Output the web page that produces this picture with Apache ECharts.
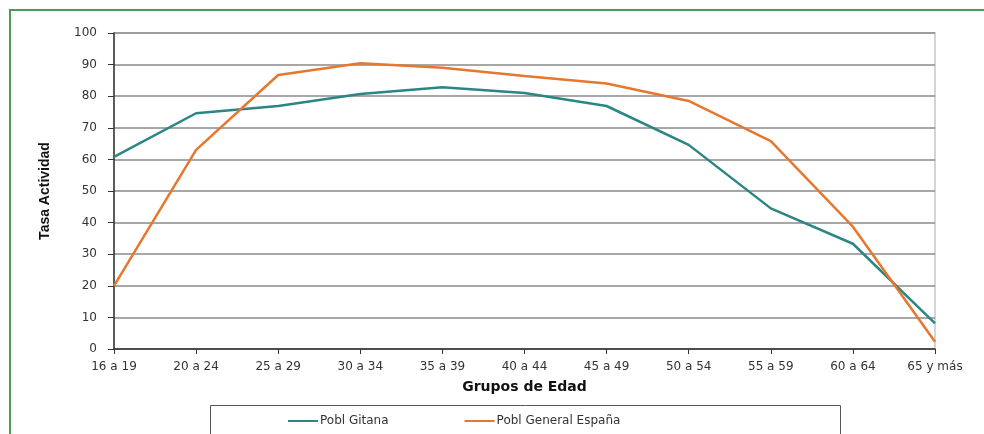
<!DOCTYPE html>
<html><head><meta charset="utf-8">
<script src="https://cdn.jsdelivr.net/npm/echarts@6/dist/echarts.min.js"></script>
<style>html,body{margin:0;padding:0;background:#fff}#c{width:984px;height:434px}</style>
</head><body><div id="c"></div>
<script>
const categories = ['16 a 19','20 a 24','25 a 29','30 a 34','35 a 39','40 a 44','45 a 49','50 a 54','55 a 59','60 a 64','65 y más'];
const gitana = [60.8, 74.6, 76.9, 80.7, 82.8, 81.0, 76.9, 64.6, 44.5, 33.3, 8.1];
const espana = [20.0, 63.0, 86.7, 90.4, 89.0, 86.4, 84.0, 78.5, 65.8, 38.7, 2.3];
const seriesNames = ['Pobl Gitana', 'Pobl General España'];
const yTicks = {min: 0, max: 100, interval: 10};

const font = '"DejaVu Sans", Arial, sans-serif';
const narrow = '"Liberation Sans Narrow", "Liberation Sans", Arial, sans-serif';
const chart = echarts.init(document.getElementById('c'), null, {renderer: 'canvas'});
chart.setOption({
  animation: false,
  backgroundColor: '#fff',
  graphic: [
    {type: 'line', shape: {x1: 10, y1: 9, x2: 10, y2: 434}, style: {stroke: '#4f9a57', lineWidth: 2}, z: 0},
    {type: 'line', shape: {x1: 10, y1: 10, x2: 984, y2: 10}, style: {stroke: '#4f9a57', lineWidth: 2}, z: 0},
    {type: 'rect', shape: {x: 210.5, y: 405.5, width: 630, height: 40}, style: {fill: '#fff', stroke: '#555', lineWidth: 1}, z: 0}
  ],
  grid: {left: 114, right: 49, top: 33, bottom: 85, show: true, borderColor: '#c8c8c8', borderWidth: 1.5},
  legend: {
    data: seriesNames, left: 283, top: 410, itemGap: 76,
    icon: 'rect', itemWidth: 30, itemHeight: 2,
    textStyle: {fontFamily: font, fontSize: 12, color: '#333', padding: [0,0,0,-3]}
  },
  xAxis: {
    type: 'category', data: categories, boundaryGap: false,
    name: 'Grupos de Edad', nameLocation: 'middle', nameGap: 31,
    nameTextStyle: {fontFamily: font, fontSize: 14, fontWeight: 'bold', color: '#111'},
    axisLine: {lineStyle: {color: '#333', width: 1.5}},
    axisTick: {show: true, length: 5, lineStyle: {color: '#333'}},
    axisLabel: {fontFamily: font, fontSize: 12, color: '#333', margin: 12, interval: 0},
    splitLine: {show: false}
  },
  yAxis: {
    type: 'value', min: yTicks.min, max: yTicks.max, interval: yTicks.interval,
    name: 'Tasa Actividad', nameLocation: 'middle', nameGap: 62, nameRotate: 90,
    nameTextStyle: {fontFamily: narrow, fontSize: 14, fontWeight: 'bold', color: '#111'},
    axisLine: {show: true, lineStyle: {color: '#333', width: 1.5}},
    axisTick: {show: true, length: 6, lineStyle: {color: '#333'}},
    axisLabel: {fontFamily: font, fontSize: 12, color: '#333', margin: 17},
    splitLine: {lineStyle: {color: '#8a8a8a', width: 1.5}}
  },
  series: [
    {name: seriesNames[0], type: 'line', data: gitana, symbol: 'none', color: '#2b8683', lineStyle: {width: 2.5, color: '#2b8683'}},
    {name: seriesNames[1], type: 'line', data: espana, symbol: 'none', color: '#e8772e', lineStyle: {width: 2.5, color: '#e8772e'}}
  ]
});
</script></body></html>
